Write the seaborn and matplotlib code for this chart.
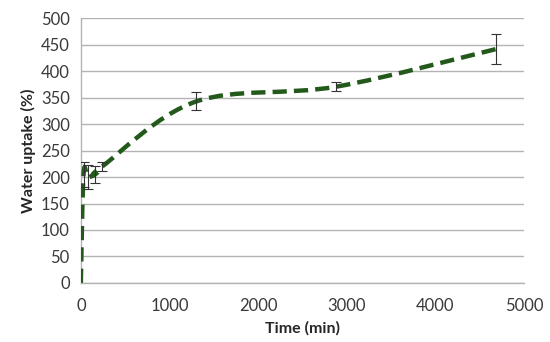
import matplotlib
matplotlib.use("Agg")
import matplotlib.pyplot as plt
import numpy as np
import seaborn as sns
from matplotlib.path import Path
from matplotlib.patches import PathPatch

# values
time_min = [0, 30, 80, 160, 240, 1300, 2880, 4680]
uptake = [0, 205, 200, 205, 220, 343, 371, 442]
uptake_err = [0, 23, 23, 16, 8, 17, 8, 28]

x_ticks = [0, 1000, 2000, 3000, 4000, 5000]
y_ticks = list(range(0, 501, 50))

line_color = "#235a1c"
grid_color = "#b3b3b3"

sns.set_style("white")
plt.rcParams["font.family"] = ["Lato", "DejaVu Sans"]

fig = plt.figure(figsize=(5.5, 3.42), dpi=100)
ax = fig.add_axes([0.147, 0.173, 0.806, 0.773])
ax.set_xlim(0, 5000)
ax.set_ylim(0, 500)


# Excel-style smoothed line: Catmull-Rom segments turned into cubic Bezier curves,
# computed in screen-like space so the bends look like they do on the chart
def smooth_path(xs, ys):
    px = np.array(xs, float) / 5000 * 443
    py = np.array(ys, float) / 500 * 264
    pts = np.column_stack([px, py])
    n = len(pts)
    verts = [pts[0]]
    codes = [Path.MOVETO]
    for i in range(n - 1):
        p0 = pts[i - 1] if i > 0 else pts[i]
        p1 = pts[i]
        p2 = pts[i + 1]
        p3 = pts[i + 2] if i + 2 < n else pts[i + 1]
        c1 = p1 + (p2 - p0) / 6
        c2 = p2 - (p3 - p1) / 6
        verts += [c1, c2, p2]
        codes += [Path.CURVE4] * 3
    verts = np.array(verts)
    verts[:, 0] = verts[:, 0] / 443 * 5000
    verts[:, 1] = verts[:, 1] / 264 * 500
    return Path(verts, codes)


patch = PathPatch(smooth_path(time_min, uptake), facecolor="none", edgecolor=line_color,
                  lw=3.2, linestyle=(0, (3.2, 1.6)), capstyle="butt", zorder=3)
ax.add_patch(patch)

ax.errorbar(time_min[1:], uptake[1:], yerr=uptake_err[1:], fmt="none",
            ecolor="#333333", elinewidth=0.8, capsize=3.5, capthick=0.8, zorder=4)

ax.set_xticks(x_ticks)
ax.set_yticks(y_ticks)
ax.yaxis.grid(True, color=grid_color, lw=1)
ax.xaxis.grid(False)
ax.set_axisbelow(True)
for s in ["top", "right"]:
    ax.spines[s].set_visible(False)
for s in ["left", "bottom"]:
    ax.spines[s].set_color(grid_color)
    ax.spines[s].set_linewidth(1)
ax.tick_params(axis="both", direction="out", length=5, width=1, color=grid_color,
               labelsize=12, labelcolor="#3a3a3a", pad=3)
ax.tick_params(axis="x", pad=6)

ax.set_xlabel("Time (min)", fontsize=11.5, fontweight="bold", labelpad=5)
ax.set_ylabel("Water uptake (%)", fontsize=11.5, fontweight="bold")
ax.yaxis.set_label_coords(-0.102, 0.5)

fig.savefig("out.png", dpi=100)
